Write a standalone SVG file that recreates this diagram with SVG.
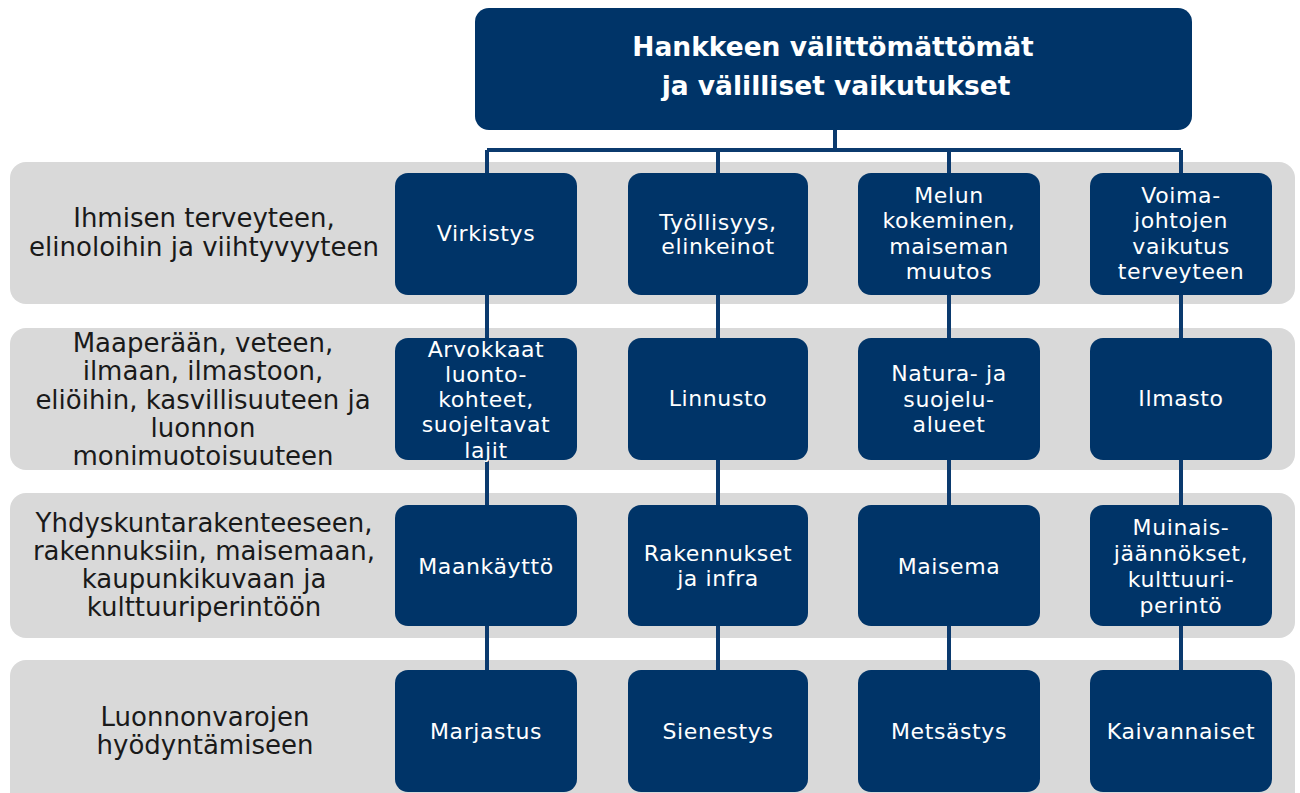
<svg xmlns="http://www.w3.org/2000/svg" width="1300" height="793" viewBox="0 0 1300 793">
<style>
.band{fill:#d9d9d9}
.box{fill:#003468}
.conn{stroke:#0b3a6e;stroke-width:4;fill:none}
.bt{font-family:"DejaVu Sans","Liberation Sans",sans-serif;font-size:22px;letter-spacing:0.6px;fill:#ffffff;text-anchor:middle}
.lt{font-family:"DejaVu Sans","Liberation Sans",sans-serif;font-size:26px;fill:#1a1a1a;text-anchor:middle}
.tt{font-family:"DejaVu Sans","Liberation Sans",sans-serif;font-size:26.5px;font-weight:bold;fill:#ffffff;text-anchor:middle}
</style>
<rect width="1300" height="793" fill="#ffffff"/>
<g id="bands">
<rect class="band" x="10" y="162" width="1285" height="142" rx="16"/>
<rect class="band" x="10" y="328" width="1285" height="142" rx="16"/>
<rect class="band" x="10" y="493" width="1285" height="145" rx="16"/>
<rect class="band" x="10" y="660" width="1285" height="150" rx="16"/>
</g>
<g id="row-labels">
<text class="lt"><tspan x="204" y="227">Ihmisen terveyteen,</tspan><tspan x="204" y="256">elinoloihin ja viihtyvyyteen</tspan></text>
<text class="lt"><tspan x="203" y="352">Maaperään, veteen,</tspan><tspan x="203" y="380">ilmaan, ilmastoon,</tspan><tspan x="203" y="409">eliöihin, kasvillisuuteen ja</tspan><tspan x="203" y="437">luonnon</tspan><tspan x="203" y="465">monimuotoisuuteen</tspan></text>
<text class="lt"><tspan x="204" y="532">Yhdyskuntarakenteeseen,</tspan><tspan x="204" y="560">rakennuksiin, maisemaan,</tspan><tspan x="204" y="588">kaupunkikuvaan ja</tspan><tspan x="204" y="616">kulttuuriperintöön</tspan></text>
<text class="lt"><tspan x="205" y="726">Luonnonvarojen</tspan><tspan x="205" y="754">hyödyntämiseen</tspan></text>
</g>
<g id="connectors">
<path class="conn" d="M835 128 V150 M487 150 H1181"/>
<path class="conn" d="M487 150 V175 M718 150 V175 M949 150 V175 M1181 150 V175"/>
<path class="conn" d="M487 293 V340 M718 293 V340 M949 293 V340 M1181 293 V340"/>
<path class="conn" d="M487 458 V507 M718 458 V507 M949 458 V507 M1181 458 V507"/>
<path class="conn" d="M487 624 V672 M718 624 V672 M949 624 V672 M1181 624 V672"/>
</g>
<g id="top">
<rect class="box" x="475" y="8" width="717" height="122" rx="14"/>
<text class="tt" x="833" y="56">Hankkeen välittömättömät</text>
<text class="tt" x="836" y="95">ja välilliset vaikutukset</text>
</g>
<g id="virkistys"><rect class="box" x="395" y="173" width="182" height="122" rx="13"/><text class="bt" x="486" y="241">Virkistys</text></g>
<g id="tyollisyys"><rect class="box" x="628" y="173" width="180" height="122" rx="13"/><text class="bt"><tspan x="718" y="230">Työllisyys,</tspan><tspan x="718" y="254">elinkeinot</tspan></text></g>
<g id="melun"><rect class="box" x="858" y="173" width="182" height="122" rx="13"/><text class="bt"><tspan x="949" y="203">Melun</tspan><tspan x="949" y="228">kokeminen,</tspan><tspan x="949" y="254">maiseman</tspan><tspan x="949" y="279">muutos</tspan></text></g>
<g id="voimajohtojen"><rect class="box" x="1090" y="173" width="182" height="122" rx="13"/><text class="bt"><tspan x="1181" y="203">Voima-</tspan><tspan x="1181" y="228">johtojen</tspan><tspan x="1181" y="254">vaikutus</tspan><tspan x="1181" y="279">terveyteen</tspan></text></g>
<g id="arvokkaat"><rect class="box" x="395" y="338" width="182" height="122" rx="13"/><text class="bt"><tspan x="486" y="357">Arvokkaat</tspan><tspan x="486" y="382">luonto-</tspan><tspan x="486" y="407">kohteet,</tspan><tspan x="486" y="432">suojeltavat</tspan><tspan x="486" y="458">lajit</tspan></text></g>
<g id="linnusto"><rect class="box" x="628" y="338" width="180" height="122" rx="13"/><text class="bt" x="718" y="406">Linnusto</text></g>
<g id="natura"><rect class="box" x="858" y="338" width="182" height="122" rx="13"/><text class="bt"><tspan x="949" y="381">Natura- ja</tspan><tspan x="949" y="407">suojelu-</tspan><tspan x="949" y="432">alueet</tspan></text></g>
<g id="ilmasto"><rect class="box" x="1090" y="338" width="182" height="122" rx="13"/><text class="bt" x="1181" y="406">Ilmasto</text></g>
<g id="maankaytto"><rect class="box" x="395" y="505" width="182" height="121" rx="13"/><text class="bt" x="486" y="574">Maankäyttö</text></g>
<g id="rakennukset"><rect class="box" x="628" y="505" width="180" height="121" rx="13"/><text class="bt"><tspan x="718" y="561">Rakennukset</tspan><tspan x="718" y="586">ja infra</tspan></text></g>
<g id="maisema"><rect class="box" x="858" y="505" width="182" height="121" rx="13"/><text class="bt" x="949" y="574">Maisema</text></g>
<g id="muinais"><rect class="box" x="1090" y="505" width="182" height="121" rx="13"/><text class="bt"><tspan x="1181" y="535">Muinais-</tspan><tspan x="1181" y="561">jäännökset,</tspan><tspan x="1181" y="587">kulttuuri-</tspan><tspan x="1181" y="613">perintö</tspan></text></g>
<g id="marjastus"><rect class="box" x="395" y="670" width="182" height="122" rx="13"/><text class="bt" x="486" y="739">Marjastus</text></g>
<g id="sienestys"><rect class="box" x="628" y="670" width="180" height="122" rx="13"/><text class="bt" x="718" y="739">Sienestys</text></g>
<g id="metsastys"><rect class="box" x="858" y="670" width="182" height="122" rx="13"/><text class="bt" x="949" y="739">Metsästys</text></g>
<g id="kaivannaiset"><rect class="box" x="1090" y="670" width="182" height="122" rx="13"/><text class="bt" x="1181" y="739">Kaivannaiset</text></g>
</svg>
